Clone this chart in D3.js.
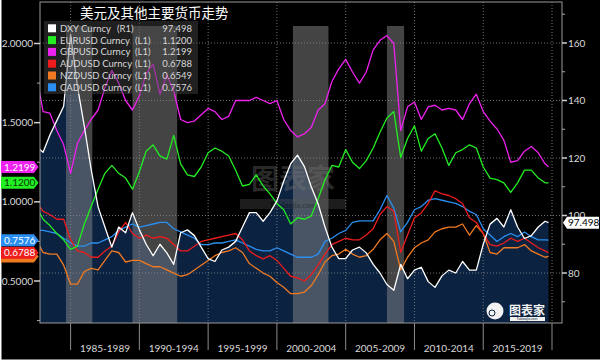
<!DOCTYPE html>
<html>
<head>
<meta charset="utf-8">
<script src="https://cdn.jsdelivr.net/npm/d3@7"></script>
<style>
  body { margin: 0; background: #fff; }
  svg { display: block; }
</style>
</head>
<body>
<div class="chart"></div>
<script>
// half-yearly readings, Oct 1982 .. Oct 2019
let dates = ["1982-10","1983-01","1983-07","1984-01","1984-07","1985-01","1985-07","1986-01","1986-07","1987-01",
  "1987-07","1988-01","1988-07","1989-01","1989-07","1990-01","1990-07","1991-01","1991-07","1992-01",
  "1992-07","1993-01","1993-07","1994-01","1994-07","1995-01","1995-07","1996-01","1996-07","1997-01",
  "1997-07","1998-01","1998-07","1999-01","1999-07","2000-01","2000-07","2001-01","2001-07","2002-01",
  "2002-07","2003-01","2003-07","2004-01","2004-07","2005-01","2005-07","2006-01","2006-07","2007-01",
  "2007-07","2008-01","2008-07","2009-01","2009-07","2010-01","2010-07","2011-01","2011-07","2012-01",
  "2012-07","2013-01","2013-07","2014-01","2014-07","2015-01","2015-07","2016-01","2016-07","2017-01",
  "2017-07","2018-01","2018-07","2019-01","2019-07","2019-10"];

let dxy = [123,122,128,133,138,163,145,131,116,103,
  96,89,96,94,101,95,90,86,90,87,
  83,94,95,93,89,85,84,88,89,91,
  96,101,101,98,101,105,112,118,121,117,
  110,104,96,89,85,85,88,89,87,83,
  80,76,74,83,78,81,82,77,75,79,
  81,80,84,81,81,90,97,99,96,102,
  96,92,93,96,98,97.498];

let eurusd = [0.93,0.89,0.85,0.80,0.76,0.70,0.72,0.86,0.97,1.08,
  1.18,1.23,1.18,1.15,1.08,1.19,1.32,1.36,1.29,1.27,
  1.42,1.24,1.17,1.16,1.22,1.31,1.34,1.32,1.29,1.20,
  1.10,1.11,1.17,1.10,1.05,0.99,0.95,0.86,0.90,0.89,
  0.91,1.02,1.14,1.23,1.22,1.33,1.25,1.21,1.26,1.34,
  1.44,1.53,1.57,1.28,1.40,1.48,1.32,1.40,1.43,1.34,
  1.23,1.31,1.33,1.36,1.34,1.22,1.15,1.14,1.12,1.06,
  1.12,1.20,1.20,1.15,1.12,1.12];

let gbpusd = [1.69,1.57,1.56,1.45,1.36,1.18,1.37,1.45,1.52,1.58,
  1.72,1.83,1.75,1.64,1.58,1.67,1.81,1.87,1.68,1.80,
  1.70,1.52,1.50,1.51,1.55,1.59,1.57,1.52,1.54,1.64,
  1.64,1.64,1.66,1.64,1.62,1.64,1.52,1.45,1.41,1.43,
  1.47,1.58,1.62,1.76,1.84,1.90,1.82,1.75,1.82,1.96,
  2.02,2.05,2.00,1.45,1.60,1.63,1.52,1.60,1.61,1.58,
  1.59,1.58,1.52,1.62,1.68,1.57,1.51,1.46,1.39,1.25,
  1.26,1.32,1.35,1.31,1.24,1.2199];

let audusd = [0.97,0.94,0.92,0.89,0.89,0.76,0.69,0.68,0.65,0.65,
  0.69,0.72,0.81,0.87,0.80,0.77,0.79,0.77,0.78,0.77,
  0.73,0.69,0.69,0.72,0.75,0.76,0.77,0.78,0.79,0.80,
  0.76,0.69,0.66,0.64,0.66,0.63,0.58,0.53,0.52,0.50,
  0.54,0.60,0.67,0.73,0.75,0.77,0.76,0.76,0.79,0.83,
  0.92,0.97,0.94,0.68,0.79,0.90,0.93,0.99,1.07,1.05,
  1.04,1.02,0.99,0.90,0.87,0.80,0.73,0.72,0.74,0.77,
  0.75,0.77,0.74,0.71,0.69,0.6788];

let nzdusd = [0.72,0.68,0.67,0.67,0.60,0.48,0.48,0.56,0.58,0.57,
  0.63,0.69,0.68,0.62,0.63,0.63,0.61,0.59,0.59,0.57,
  0.55,0.53,0.54,0.57,0.60,0.63,0.66,0.68,0.69,0.71,
  0.68,0.61,0.58,0.55,0.53,0.49,0.46,0.42,0.42,0.43,
  0.47,0.54,0.62,0.66,0.67,0.70,0.67,0.65,0.66,0.70,
  0.76,0.80,0.75,0.57,0.65,0.71,0.74,0.76,0.81,0.83,
  0.84,0.84,0.86,0.79,0.85,0.80,0.68,0.67,0.71,0.71,
  0.71,0.73,0.69,0.67,0.65,0.6549];

let cadusd = [0.82,0.82,0.81,0.80,0.77,0.74,0.72,0.72,0.74,0.74,
  0.76,0.78,0.82,0.84,0.86,0.84,0.85,0.86,0.87,0.87,
  0.83,0.81,0.79,0.77,0.73,0.73,0.74,0.74,0.75,0.76,
  0.74,0.72,0.70,0.69,0.69,0.71,0.69,0.67,0.65,0.65,
  0.65,0.67,0.75,0.77,0.80,0.82,0.87,0.88,0.88,0.88,
  0.95,1.04,0.96,0.81,0.87,0.95,0.97,1.01,1.02,1.01,
  1.00,0.99,0.97,0.94,0.92,0.83,0.79,0.75,0.78,0.80,
  0.78,0.81,0.78,0.76,0.76,0.7576];

let seriesNames = ["DXY Curncy", "EURUSD Curncy", "GBPUSD Curncy", "AUDUSD Curncy", "NZDUSD Curncy", "CADUSD Curncy"];
let seriesAxis = ["(R1)", "(L1)", "(L1)", "(L1)", "(L1)", "(L1)"];
let lastValues = ["97.498", "1.1200", "1.2199", "0.6788", "0.6549", "0.7576"];
let seriesColors = ["#ffffff", "#22ee22", "#ee22ee", "#ee1c1c", "#f07a22", "#2a8ff0"];

let leftTicks = [0.5, 1.0, 1.5, 2.0];
let leftMinor = [0.25, 0.75, 1.25, 1.75];
let rightTicks = [80, 100, 120, 140, 160];
let rightMinor = [70, 90, 110, 130, 150, 170];
let periodStarts = ["1985", "1990", "1995", "2000", "2005", "2010", "2015", "2020"];
let periodLabels = ["1985-1989", "1990-1994", "1995-1999", "2000-2004", "2005-2009", "2010-2014", "2015-2019"];
let shadedPeriods = [["1984-09", "1986-08"], ["1989-07", "1992-10"], ["2001-03", "2003-10"], ["2008-01", "2009-04"]];

let title = "美元及其他主要货币走势";

let config = {
  width: 600, height: 363,
  left: 40, right: 562, top: 2, bottom: 323,
  bandTop: 26,
  font: "Lato, 'Liberation Sans', sans-serif",
  textColor: "#d8d8d8",
  areaColor: "#0b2241"
};

let parseMonth = d3.timeParse("%Y-%m");
let parseYear = d3.timeParse("%Y");
let dateObjs = dates.map(parseMonth);

let svg = d3.select("div.chart").append("svg")
  .attr("width", config.width)
  .attr("height", config.height);

svg.append("rect")
  .attr("x", 1.5).attr("y", 0)
  .attr("width", config.width - 1.5).attr("height", 359.5)
  .attr("fill", "#000");

let x = d3.scaleTime()
  .domain([parseYear("1985"), parseYear("2020")])
  .range([70.6, 552]);

let yL = d3.scaleLinear().domain([0.5, 2.0]).range([281, 43.5]);
let yR = d3.scaleLinear().domain([80, 160]).range([273, 43]);

svg.append("clipPath").attr("id", "plotclip")
  .append("rect")
  .attr("x", config.left).attr("y", config.top)
  .attr("width", config.right - config.left).attr("height", config.bottom - config.top);

let plot = svg.append("g").attr("clip-path", "url(#plotclip)");

// DXY filled area
let area = d3.area()
  .x((d, i) => x(dateObjs[i]))
  .y0(config.bottom)
  .y1(d => yR(d));

plot.append("path")
  .datum(dxy)
  .attr("d", area)
  .attr("fill", config.areaColor);

// grid
plot.selectAll(".hgrid")
  .data(rightTicks)
  .enter().append("line")
  .attr("x1", config.left).attr("x2", config.right)
  .attr("y1", d => yR(d)).attr("y2", d => yR(d))
  .attr("stroke", "#8a8a8a")
  .attr("stroke-width", 0.8)
  .attr("stroke-dasharray", "1,2");

plot.selectAll(".vgrid")
  .data(periodStarts)
  .enter().append("line")
  .attr("x1", d => x(parseYear(d))).attr("x2", d => x(parseYear(d)))
  .attr("y1", config.top).attr("y2", config.bottom)
  .attr("stroke", "#8a8a8a")
  .attr("stroke-width", 0.8)
  .attr("stroke-dasharray", "1,2");

// shaded periods
plot.selectAll(".band")
  .data(shadedPeriods)
  .enter().append("rect")
  .attr("x", d => x(parseMonth(d[0])))
  .attr("width", d => x(parseMonth(d[1])) - x(parseMonth(d[0])))
  .attr("y", config.bandTop)
  .attr("height", config.bottom - config.bandTop)
  .attr("fill", "rgba(135,135,135,0.5)");

// watermark
let wm = plot.append("g").attr("opacity", 0.35);
wm.append("text")
  .attr("x", 293).attr("y", 189)
  .attr("text-anchor", "middle")
  .attr("font-family", "'Noto Sans CJK SC'")
  .attr("font-weight", "bold")
  .attr("font-size", 28)
  .attr("fill", "#777")
  .text("图表家");
wm.append("rect")
  .attr("x", 240).attr("y", 199).attr("width", 106).attr("height", 10)
  .attr("fill", "#555");
wm.append("text")
  .attr("x", 293).attr("y", 207.5)
  .attr("text-anchor", "middle")
  .attr("font-family", config.font)
  .attr("font-style", "italic")
  .attr("font-weight", "bold")
  .attr("font-size", 8)
  .attr("fill", "#111")
  .text("Tubiaojia.com");

// lines
let leftLine = d3.line().x((d, i) => x(dateObjs[i])).y(d => yL(d));
let rightLine = d3.line().x((d, i) => x(dateObjs[i])).y(d => yR(d));

let allSeries = [dxy, eurusd, gbpusd, audusd, nzdusd, cadusd];
let order = [5, 4, 3, 2, 1, 0];
order.forEach(function(k) {
  plot.append("path")
    .datum(allSeries[k])
    .attr("d", k === 0 ? rightLine : leftLine)
    .attr("fill", "none")
    .attr("stroke", seriesColors[k])
    .attr("stroke-width", 1.3)
    .attr("stroke-linejoin", "round");
});

// logo bottom right
let logo = svg.append("g");
logo.append("circle").attr("cx", 495).attr("cy", 311).attr("r", 8.5).attr("fill", "#f2f2f2");
logo.append("circle").attr("cx", 492).attr("cy", 313).attr("r", 3).attr("fill", "none")
  .attr("stroke", "#0b2241").attr("stroke-width", 1);
logo.append("text")
  .attr("x", 527).attr("y", 315)
  .attr("text-anchor", "middle")
  .attr("font-family", "'Noto Sans CJK SC'")
  .attr("font-weight", "bold")
  .attr("font-size", 12)
  .attr("fill", "#f2f2f2")
  .text("图表家");
logo.append("rect").attr("x", 510).attr("y", 317).attr("width", 35).attr("height", 4).attr("fill", "#f2f2f2");
logo.append("text")
  .attr("x", 527).attr("y", 320.3)
  .attr("text-anchor", "middle")
  .attr("font-family", config.font)
  .attr("font-size", 3.5)
  .attr("fill", "#0b2241")
  .text("Tubiaojia.com");

// frame
svg.append("rect")
  .attr("x", config.left).attr("y", config.top)
  .attr("width", config.right - config.left).attr("height", config.bottom - config.top)
  .attr("fill", "none")
  .attr("stroke", "#9a9a9a")
  .attr("stroke-width", 1);

// left axis
svg.selectAll(".ltick")
  .data(leftTicks)
  .enter().append("line")
  .attr("x1", 34).attr("x2", config.left)
  .attr("y1", d => yL(d)).attr("y2", d => yL(d))
  .attr("stroke", "#cfcfcf").attr("stroke-width", 1.5);

svg.selectAll(".lminor")
  .data(leftMinor)
  .enter().append("line")
  .attr("x1", 37).attr("x2", config.left)
  .attr("y1", d => yL(d)).attr("y2", d => yL(d))
  .attr("stroke", "#aaa").attr("stroke-width", 1);

svg.selectAll(".llabel")
  .data(leftTicks)
  .enter().append("text")
  .attr("x", 33).attr("y", d => yL(d) + 3.5)
  .attr("text-anchor", "end")
  .attr("font-family", config.font)
  .attr("font-size", 10)
  .attr("fill", config.textColor)
  .text(d => d3.format(".4f")(d));

// right axis
svg.selectAll(".rtick")
  .data(rightTicks)
  .enter().append("line")
  .attr("x1", config.right).attr("x2", config.right + 5)
  .attr("y1", d => yR(d)).attr("y2", d => yR(d))
  .attr("stroke", "#cfcfcf").attr("stroke-width", 1.5);

svg.selectAll(".rminor")
  .data(rightMinor)
  .enter().append("line")
  .attr("x1", config.right).attr("x2", config.right + 3)
  .attr("y1", d => yR(d)).attr("y2", d => yR(d))
  .attr("stroke", "#aaa").attr("stroke-width", 1);

// the 100 label sits partly behind the DXY tag, as in the original
svg.selectAll(".rlabel")
  .data(rightTicks)
  .enter().append("text")
  .attr("x", config.right + 6).attr("y", d => yR(d) + 3.5)
  .attr("font-family", config.font)
  .attr("font-size", 10)
  .attr("fill", config.textColor)
  .text(d => d);

// bottom axis: separators and period labels
svg.selectAll(".sep")
  .data(periodStarts)
  .enter().append("line")
  .attr("x1", d => x(parseYear(d))).attr("x2", d => x(parseYear(d)))
  .attr("y1", config.bottom).attr("y2", 350)
  .attr("stroke", "#8c8c8c").attr("stroke-width", 1);

svg.selectAll(".period")
  .data(periodLabels)
  .enter().append("text")
  .attr("x", (d, i) => (x(parseYear(periodStarts[i])) + x(parseYear(periodStarts[i + 1]))) / 2)
  .attr("y", 351.5)
  .attr("text-anchor", "middle")
  .attr("font-family", config.font)
  .attr("font-size", 10)
  .attr("fill", config.textColor)
  .text(d => d);

// value tags on the left axis; the NZD tag is hidden under the AUD one, only its edge shows
let tagOrder = [4, 3, 1, 2, 5];
tagOrder.forEach(function(k) {
  let cy = yL(+lastValues[k]);
  let h = 12;
  let g = svg.append("g");
  g.append("path")
    .attr("d", "M1," + (cy - h / 2) + " H34 L38.5," + cy + " L34," + (cy + h / 2) + " H1 Z")
    .attr("fill", seriesColors[k]);
  if (k === 4) return;
  g.append("text")
    .attr("x", 4).attr("y", cy + 3.6)
    .attr("font-family", config.font)
    .attr("font-size", 10)
    .attr("fill", k === 1 ? "#0a3a0a" : "#fff")
    .text(lastValues[k]);
});

// DXY tag on the right axis
let dy = yR(+lastValues[0]);
svg.append("path")
  .attr("d", "M" + (config.right + 1) + "," + dy + " L" + (config.right + 5) + "," + (dy - 6) +
    " H599 V" + (dy + 6) + " H" + (config.right + 5) + " Z")
  .attr("fill", "#fff");
svg.append("text")
  .attr("x", config.right + 6).attr("y", dy + 3.6)
  .attr("font-family", config.font)
  .attr("font-size", 10)
  .attr("fill", "#000")
  .text(lastValues[0]);

// title
svg.append("text")
  .attr("x", 80).attr("y", 18)
  .attr("font-family", "'Noto Sans CJK SC'")
  .attr("font-size", 13.5)
  .attr("fill", "#fff")
  .text(title);

// legend
let legend = svg.append("g");
legend.append("rect")
  .attr("x", 44).attr("y", 21).attr("width", 154).attr("height", 73)
  .attr("fill", "rgba(70,70,70,0.45)");

let rowY = d3.scaleLinear().domain([0, 5]).range([28.3, 87.3]);
seriesNames.forEach(function(name, i) {
  let cy = rowY(i);
  legend.append("rect")
    .attr("x", 48).attr("y", cy - 4).attr("width", 8).attr("height", 8)
    .attr("fill", seriesColors[i]);
  legend.append("text")
    .attr("x", 60).attr("y", cy + 3.4)
    .attr("font-family", config.font)
    .attr("font-size", 9.5)
    .attr("fill", config.textColor)
    .text(name);
  legend.append("text")
    .attr("x", i === 0 ? 117 : 135).attr("y", cy + 3.4)
    .attr("font-family", config.font)
    .attr("font-size", 9.5)
    .attr("fill", config.textColor)
    .text(seriesAxis[i]);
  legend.append("text")
    .attr("x", 192).attr("y", cy + 3.4)
    .attr("text-anchor", "end")
    .attr("font-family", config.font)
    .attr("font-size", 9.5)
    .attr("fill", config.textColor)
    .text(lastValues[i]);
});
</script>
</body>
</html>
